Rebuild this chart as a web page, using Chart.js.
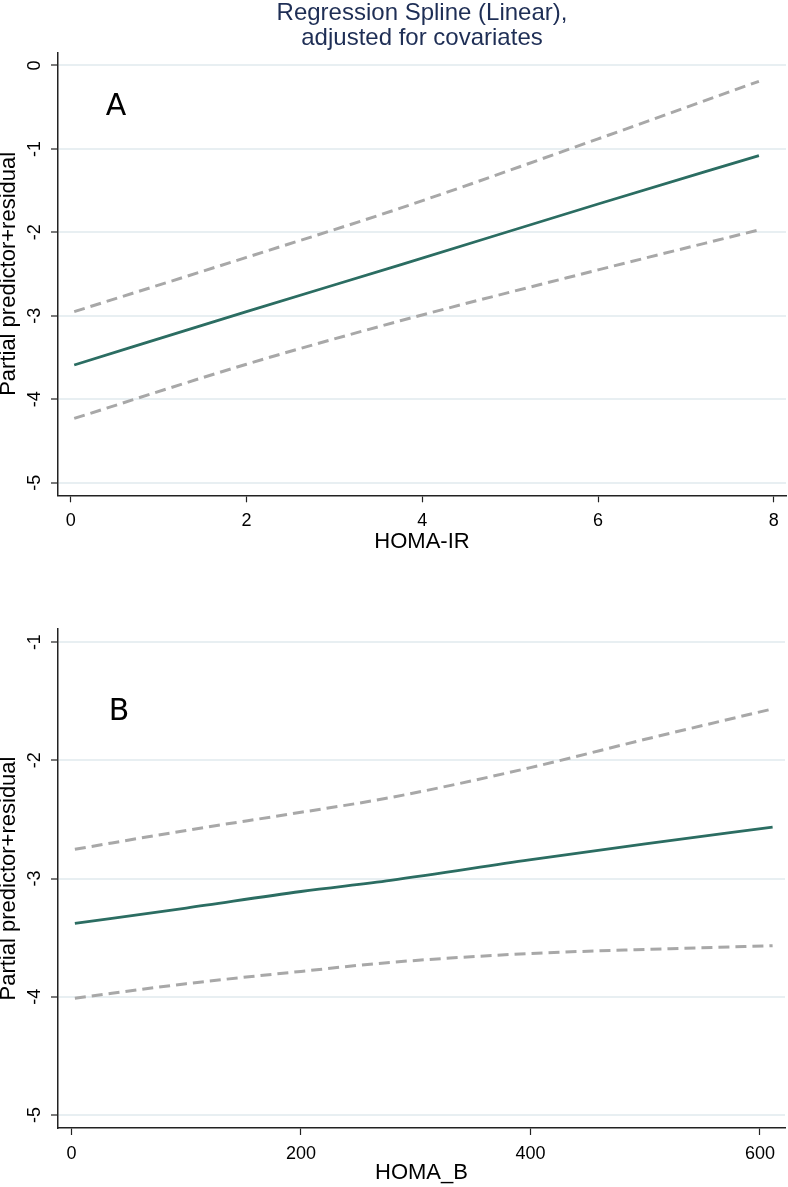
<!DOCTYPE html>
<html><head><meta charset="utf-8">
<script src="https://cdn.jsdelivr.net/npm/chart.js@4"></script>
<style>
html,body{margin:0;padding:0;background:#fff;width:788px;height:1187px;overflow:hidden}
canvas{position:absolute;left:0}
#cA{top:0}
#cB{top:580px}
</style></head><body>
<canvas id="cA" width="788" height="556"></canvas>
<canvas id="cB" width="788" height="607"></canvas>
<script>
// ---- text ----
const titleLines = ['Regression Spline (Linear),', 'adjusted for covariates'];
const yAxisTitle = 'Partial predictor+residual';
const xTitleA = 'HOMA-IR';
const xTitleB = 'HOMA_B';

// ---- panel A data ----
const xA     = [0.04, 2, 3.75, 6, 7.83];
const fitA   = [-3.59, -2.95, -2.39, -1.66, -1.08];
const upperA = [-2.95, -2.30, -1.71, -0.88, -0.19];
const lowerA = [-4.23, -3.58, -3.06, -2.45, -1.97];
const xTicksA = [0, 2, 4, 6, 8];
const yTicksA = [0, -1, -2, -3, -4, -5];

// ---- panel B data ----
const xB     = [3, 100, 200, 278, 399, 500, 611];
const fitB   = [-3.38, -3.25, -3.11, -3.016, -2.843, -2.707, -2.565];
const upperB = [-2.753, -2.593, -2.44, -2.315, -2.064, -1.822, -1.565];
const lowerB = [-4.013, -3.89, -3.786, -3.71, -3.635, -3.60, -3.569];
const xTicksB = [0, 200, 400, 600];
const yTicksB = [-1, -2, -3, -4, -5];

const FONT = 'Liberation Sans, Arial, Helvetica, sans-serif';
const pts = (xs, ys) => xs.map((x, i) => ({x, y: ys[i]}));

const letterPlugin = {
  id: 'panelLetter',
  afterDatasetsDraw(chart, args, opts) {
    const {ctx, scales: {x, y}} = chart;
    ctx.save();
    ctx.font = '30px "DejaVu Sans", sans-serif';
    ctx.fillStyle = '#000';
    ctx.textAlign = 'center';
    ctx.textBaseline = 'middle';
    ctx.fillText(opts.text, x.getPixelForValue(opts.x), y.getPixelForValue(opts.y));
    ctx.restore();
  }
};

function makeChart(id, o) {
  const solid = {data: pts(o.xs, o.fit), borderColor: '#2b6d62', borderWidth: 2.8, pointRadius: 0, cubicInterpolationMode: 'monotone', order: 0};
  const dashed = (ys) => ({data: pts(o.xs, ys), borderColor: '#a8a8a8', borderWidth: 3, borderDash: [11, 6], pointRadius: 0, cubicInterpolationMode: 'monotone', order: 1});
  return new Chart(document.getElementById(id), {
    type: 'line',
    data: {datasets: [dashed(o.upper), dashed(o.lower), solid]},
    options: {
      responsive: false,
      animation: false,
      devicePixelRatio: 1,
      layout: {padding: {left: 0, right: o.padRight, top: o.padTop, bottom: 0}},
      plugins: {
        legend: {display: false},
        tooltip: {enabled: false},
        title: o.title ? {
          display: true, text: o.title, fullSize: false, color: '#1e2e55',
          font: {family: FONT, size: 24, weight: 'normal', lineHeight: 1.03},
          padding: {top: 1, bottom: 2}
        } : {display: false},
        panelLetter: o.letter
      },
      scales: {
        x: {
          type: 'linear', min: o.xMin, max: o.xMax,
          afterBuildTicks: s => { s.ticks = o.xTicks.map(v => ({value: v})); },
          afterFit: s => { s.height = o.xAxisH; },
          grid: {display: true, drawOnChartArea: false, drawTicks: true, tickLength: 7, tickColor: '#222', tickWidth: 1.2},
          border: {display: true, color: '#222', width: 1.5},
          ticks: {autoSkip: false, maxRotation: 0, padding: 8, color: '#000', font: {family: FONT, size: 18}},
          title: {display: true, text: o.xTitle, color: '#000', font: {family: FONT, size: 22, lineHeight: 1.2}, padding: {top: 0, bottom: 1}}
        },
        y: {
          type: 'linear', min: o.yMin, max: o.yMax,
          afterBuildTicks: s => { s.ticks = o.yTicks.map(v => ({value: v})); },
          afterFit: s => { s.width = 58; },
          grid: {display: true, drawOnChartArea: true, color: '#e8eff2', lineWidth: 2, drawTicks: true, tickLength: 7, tickColor: '#222', tickWidth: 1.2},
          border: {display: true, color: '#222', width: 1.5},
          ticks: {autoSkip: false, minRotation: 90, maxRotation: 90, crossAlign: 'center', padding: 8, color: '#000', font: {family: FONT, size: 18}},
          title: {display: true, text: yAxisTitle, color: '#000', font: {family: FONT, size: 22, lineHeight: 0.85}, padding: {top: 0, bottom: 0}}
        }
      }
    },
    plugins: [letterPlugin]
  });
}

makeChart('cA', {
  xs: xA, fit: fitA, upper: upperA, lower: lowerA,
  xTicks: xTicksA, yTicks: yTicksA,
  xMin: -0.1445, xMax: 8.138, yMin: -5.151, yMax: 0.156,
  xTitle: xTitleA, title: titleLines, padTop: 0, padRight: 2, xAxisH: 60.7,
  letter: {text: 'A', x: 0.515, y: -0.504}
});

makeChart('cB', {
  xs: xB, fit: fitB, upper: upperB, lower: lowerB,
  xTicks: xTicksB, yTicks: yTicksB,
  xMin: -11.7, xMax: 621.8, yMin: -5.111, yMax: -0.889,
  xTitle: xTitleB, title: null, padTop: 49, padRight: 3, xAxisH: 59,
  letter: {text: 'B', x: 41.4, y: -1.596}
});
</script>
</body></html>
